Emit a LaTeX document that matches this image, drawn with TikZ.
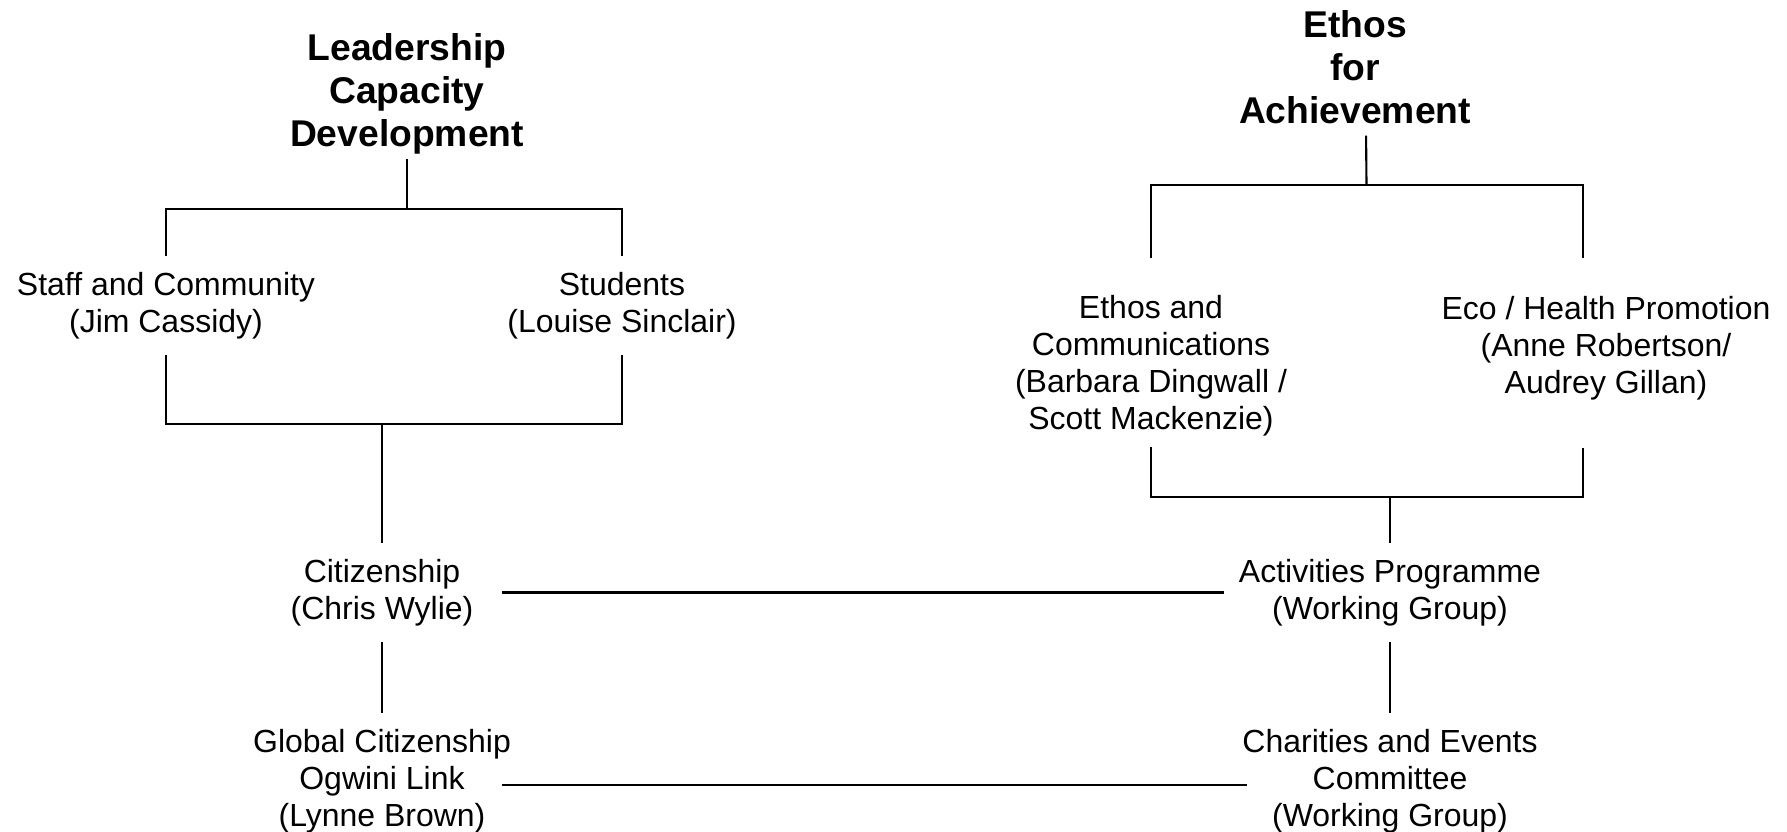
\documentclass[tikz,border=0pt]{standalone}
\usepackage{fontspec}
\setmainfont{Liberation Sans}
\begin{document}
\begin{tikzpicture}[
  line width=0.6pt,
  head/.style={align=center, inner xsep=0.2cm, inner ysep=0.04cm, font=\fontsize{10.6}{12.2}\selectfont\bfseries},
  unit/.style={align=center, inner xsep=0.2cm, inner ysep=0.15cm, font=\fontsize{9.1}{10.55}\selectfont}
]
\useasboundingbox (0,0) rectangle (17.87,-8.32);
\node[head] (lcd) at (4.07,-0.94) {Leadership\\Capacity\\Development};
\node[head] (efa) at (13.55,-0.67) {Ethos\\for\\Achievement};
\node[unit] (staff) at (1.66,-3.055) {Staff and Community\\(Jim Cassidy)};
\node[unit] (students) at (6.22,-3.055) {Students\\(Louise Sinclair)};
\node[unit] (ethcomm) at (11.51,-3.66) {Ethos and\\Communications\\(Barbara Dingwall /\\Scott Mackenzie)};
\node[unit] (eco) at (16.06,-3.48) {Eco / Health Promotion\\(Anne Robertson/\\Audrey Gillan)};
\node[unit] (citizen) at (3.82,-5.925) {Citizenship\\(Chris Wylie)};
\node[unit] (activities) at (13.90,-5.925) {Activities Programme\\(Working Group)};
\node[unit] (global) at (3.82,-7.815) {Global Citizenship\\Ogwini Link\\(Lynne Brown)};
\node[unit] (charities) at (13.90,-7.815) {Charities and Events\\Committee\\(Working Group)};

\coordinate (lcdbar) at (4.07,-2.09);
\coordinate (lcdlow) at (3.82,-4.24);
\coordinate (efabar) at (13.665,-1.85);
\coordinate (efalow) at (13.90,-4.97);

\draw (lcd.south) -- (lcdbar);
\draw (staff.north) |- (lcdbar) -| (students.north);
\draw (staff.south) |- (lcdlow) -| (students.south);
\draw (lcdlow) -- (citizen.north);
\draw (citizen) -- (global);
\draw[shorten <=0.07cm] ([xshift=0.11cm]efa.south) -- (efabar);
\draw[shorten <=0.21cm, shorten >=0.215cm] (ethcomm.north) |- (efabar) -| ([xshift=-0.23cm]eco.north);
\draw[shorten <=-0.06cm, shorten >=0.315cm] (ethcomm.south) |- (efalow) -| ([xshift=-0.23cm]eco.south);
\draw (efalow) -- (activities.north);
\draw (activities) -- (charities);
\draw[shorten <=0.08cm, shorten >=-0.06cm] (citizen) -- (activities);
\draw[shorten <=-0.30cm, shorten >=-0.26cm] ([yshift=-0.035cm]global.east) -- ([yshift=-0.035cm]charities.west);
\end{tikzpicture}
\end{document}
